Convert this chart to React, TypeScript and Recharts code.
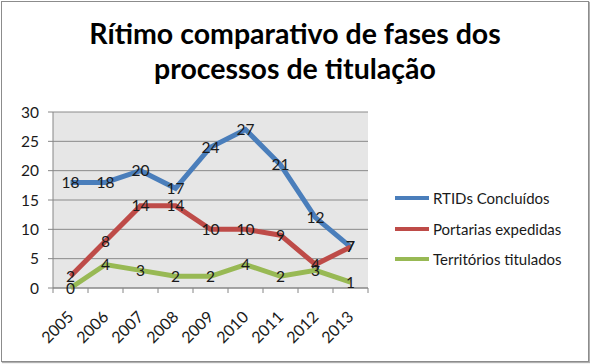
import React from "react";
import { LineChart, Line, XAxis, YAxis, CartesianGrid, LabelList } from "recharts";

const years = ["2005", "2006", "2007", "2008", "2009", "2010", "2011", "2012", "2013"];
const rtids = [18, 18, 20, 17, 24, 27, 21, 12, 7];
const portarias = [2, 8, 14, 14, 10, 10, 9, 4, 7];
const territorios = [0, 4, 3, 2, 2, 4, 2, 3, 1];
const yTicks = [0, 5, 10, 15, 20, 25, 30];

const SERIES = [
  { key: "rtids", name: "RTIDs Concluídos", color: "#4a7ebb" },
  { key: "portarias", name: "Portarias expedidas", color: "#be4b48" },
  { key: "territorios", name: "Territórios titulados", color: "#98b954" },
];

const data = years.map((year, i) => ({
  year,
  rtids: rtids[i],
  portarias: portarias[i],
  territorios: territorios[i],
}));

const FONT = "Lato, 'Open Sans', sans-serif";

function PointLabel(props: any) {
  const { x, y, value } = props;
  return (
    <text x={x} y={y} dy={5.5} textAnchor="middle" fontSize={15.5} fontFamily={FONT} fill="#1a1a1a">
      {value}
    </text>
  );
}

function YearTick(props: any) {
  const { x, y, payload, index } = props;
  const half = payload.offset || 0;
  const ax = x + 4;
  const ay = y + 22;
  return (
    <g>
      <line x1={x - half} y1={y - 8} x2={x - half} y2={y - 3} stroke="#868686" />
      {index === years.length - 1 && (
        <line x1={x + half} y1={y - 8} x2={x + half} y2={y - 3} stroke="#868686" />
      )}
      <text
        x={ax}
        y={ay}
        textAnchor="end"
        fontSize={16}
        fontFamily={FONT}
        fill="#1a1a1a"
        transform={`rotate(-45, ${ax}, ${ay})`}
      >
        {payload.value}
      </text>
    </g>
  );
}

export default function App() {
  return (
    <div style={{ position: "fixed", left: 0, top: 0, width: 590, height: 364, background: "#fff" }}>
      <div
        style={{
          position: "absolute",
          left: 1,
          top: 1,
          width: 586,
          height: 359,
          border: "1px solid #8c8c8c",
          boxShadow: "1px 1px 1px #b0b0b0",
        }}
      />
      <div
        style={{
          position: "absolute",
          left: 0,
          top: 16,
          width: 590,
          textAlign: "center",
          fontFamily: FONT,
          fontWeight: 700,
          fontSize: 28.5,
          lineHeight: "35px",
          color: "#000",
        }}
      >
        Rítimo comparativo de fases dos
        <br />
        processos de titulação
      </div>
      <div style={{ position: "absolute", left: 0, top: 0 }}>
        <LineChart width={590} height={364} data={data} margin={{ top: 112, right: 222, bottom: 0, left: 0 }}>
          <CartesianGrid vertical={false} stroke="#8a8a8a" fill="#e6e6e6" />
          <XAxis
            dataKey="year"
            scale="band"
            height={76}
            stroke="#868686"
            tickLine={false}
            tick={<YearTick />}
            interval={0}
          />
          <YAxis
            domain={[0, 30]}
            ticks={yTicks}
            width={53}
            stroke="#868686"
            tickSize={5}
            tickMargin={9}
            tick={{ fill: "#1a1a1a", fontSize: 15.5, fontFamily: FONT }}
          />
          {SERIES.map((s) => (
            <Line
              key={s.key}
              dataKey={s.key}
              name={s.name}
              stroke={s.color}
              strokeWidth={5}
              dot={false}
              isAnimationActive={false}
            >
              <LabelList dataKey={s.key} content={<PointLabel />} />
            </Line>
          ))}
        </LineChart>
      </div>
      <div style={{ position: "absolute", left: 395, top: 183, fontFamily: FONT, fontSize: 15, color: "#1a1a1a" }}>
        {SERIES.map((s) => (
          <div key={s.key} style={{ display: "flex", alignItems: "center", height: 30.5 }}>
            <div style={{ width: 34, height: 4, background: s.color, marginRight: 4 }} />
            <span>{s.name}</span>
          </div>
        ))}
      </div>
    </div>
  );
}
